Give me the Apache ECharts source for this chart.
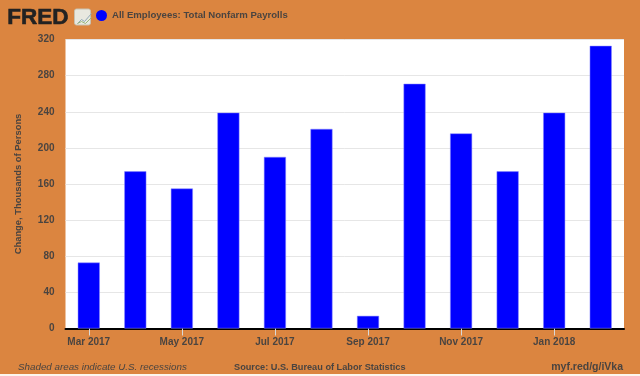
<!DOCTYPE html>
<html>
<head>
<meta charset="utf-8">
<style>
  html, body { margin: 0; padding: 0; background: #fdf6ee; }
  #chart { width: 640px; height: 374px; }
</style>
<script src="https://cdn.jsdelivr.net/npm/echarts@6/dist/echarts.min.js"></script>
</head>
<body>
<div id="chart"></div>
<script>
var months = ['Mar 2017', 'Apr 2017', 'May 2017', 'Jun 2017', 'Jul 2017', 'Aug 2017', 'Sep 2017',
  'Oct 2017', 'Nov 2017', 'Dec 2017', 'Jan 2018', 'Feb 2018'];
var payrolls = [73, 174, 155, 239, 190, 221, 14, 271, 216, 174, 239, 313];
var seriesName = 'All Employees: Total Nonfarm Payrolls';
var yTitle = 'Change, Thousands of Persons';

var textColor = '#4a4440';
var font = '"Liberation Sans", sans-serif';

var chart = echarts.init(document.getElementById('chart'), null, { renderer: 'canvas' });

chart.setOption({
  animation: false,
  backgroundColor: '#db8540',
  grid: { left: 65.5, right: 16, top: 39.5, bottom: 45.5, show: true, backgroundColor: '#ffffff', borderWidth: 0 },
  legend: {
    left: 91,
    top: 5,
    itemWidth: 11,
    itemHeight: 11,
    icon: 'circle',
    itemGap: 0,
    data: [seriesName],
    itemStyle: { borderWidth: 0 },
    textStyle: { color: textColor, fontFamily: font, fontSize: 9.6, fontWeight: 'bold' }
  },
  xAxis: {
    type: 'category',
    data: months,
    axisLine: { lineStyle: { color: '#000', width: 2 } },
    axisTick: { show: true, alignWithLabel: true, interval: 1, length: 7, lineStyle: { color: '#d9d9d9' } },
    axisLabel: { interval: 1, color: textColor, fontFamily: font, fontSize: 10, fontWeight: 'bold', margin: 9 }
  },
  yAxis: {
    type: 'value',
    min: 0,
    max: 320,
    interval: 40,
    name: yTitle,
    nameLocation: 'middle',
    nameGap: 43,
    nameTextStyle: { color: textColor, fontFamily: font, fontSize: 9.4, fontWeight: 'bold' },
    axisLine: { show: false },
    axisTick: { show: false },
    axisLabel: { color: textColor, fontFamily: font, fontSize: 10, fontWeight: 'bold', margin: 11, padding: [3, 0, 0, 0] },
    splitLine: { lineStyle: { color: '#e6e6e6', width: 1 } }
  },
  series: [{
    name: seriesName,
    type: 'bar',
    data: payrolls,
    barWidth: 22,
    itemStyle: { color: '#0000ff', borderColor: '#8a8aff', borderWidth: 0.5 }
  }],
  graphic: [
    { type: 'text', left: 7, top: 6, style: { text: 'FRED', fill: '#222222', stroke: '#222222', lineWidth: 0.6, font: 'bold 22.5px "Liberation Sans", sans-serif' } },
    { type: 'rect', left: 74, top: 8.5, shape: { width: 16, height: 16, r: 2 }, style: { fill: '#e8e8e0', stroke: '#c9c2b0', lineWidth: 1 } },
    { type: 'polyline', left: 75, top: 11, shape: { points: [[0, 10], [4, 6], [7, 8], [14, 0]] }, style: { fill: 'none', stroke: '#8fa9b8', lineWidth: 1 } },
    { type: 'polyline', left: 75, top: 15, shape: { points: [[0, 6], [4, 4], [8, 6], [14, 0]] }, style: { fill: 'none', stroke: '#9ab87a', lineWidth: 1 } },
    { type: 'text', left: 18, top: 362.5, style: { text: 'Shaded areas indicate U.S. recessions', fill: textColor, font: 'italic 9.8px "Liberation Sans", sans-serif' } },
    { type: 'text', left: 234, top: 363, style: { text: 'Source: U.S. Bureau of Labor Statistics', fill: textColor, font: 'bold 9.2px "Liberation Sans", sans-serif' } },
    { type: 'text', right: 17, top: 362, style: { text: 'myf.red/g/iVka', fill: textColor, font: 'bold 10.5px "Liberation Sans", sans-serif' } }
  ]
});

window.addEventListener('resize', function () {
  chart.resize();
});
</script>
</body>
</html>
